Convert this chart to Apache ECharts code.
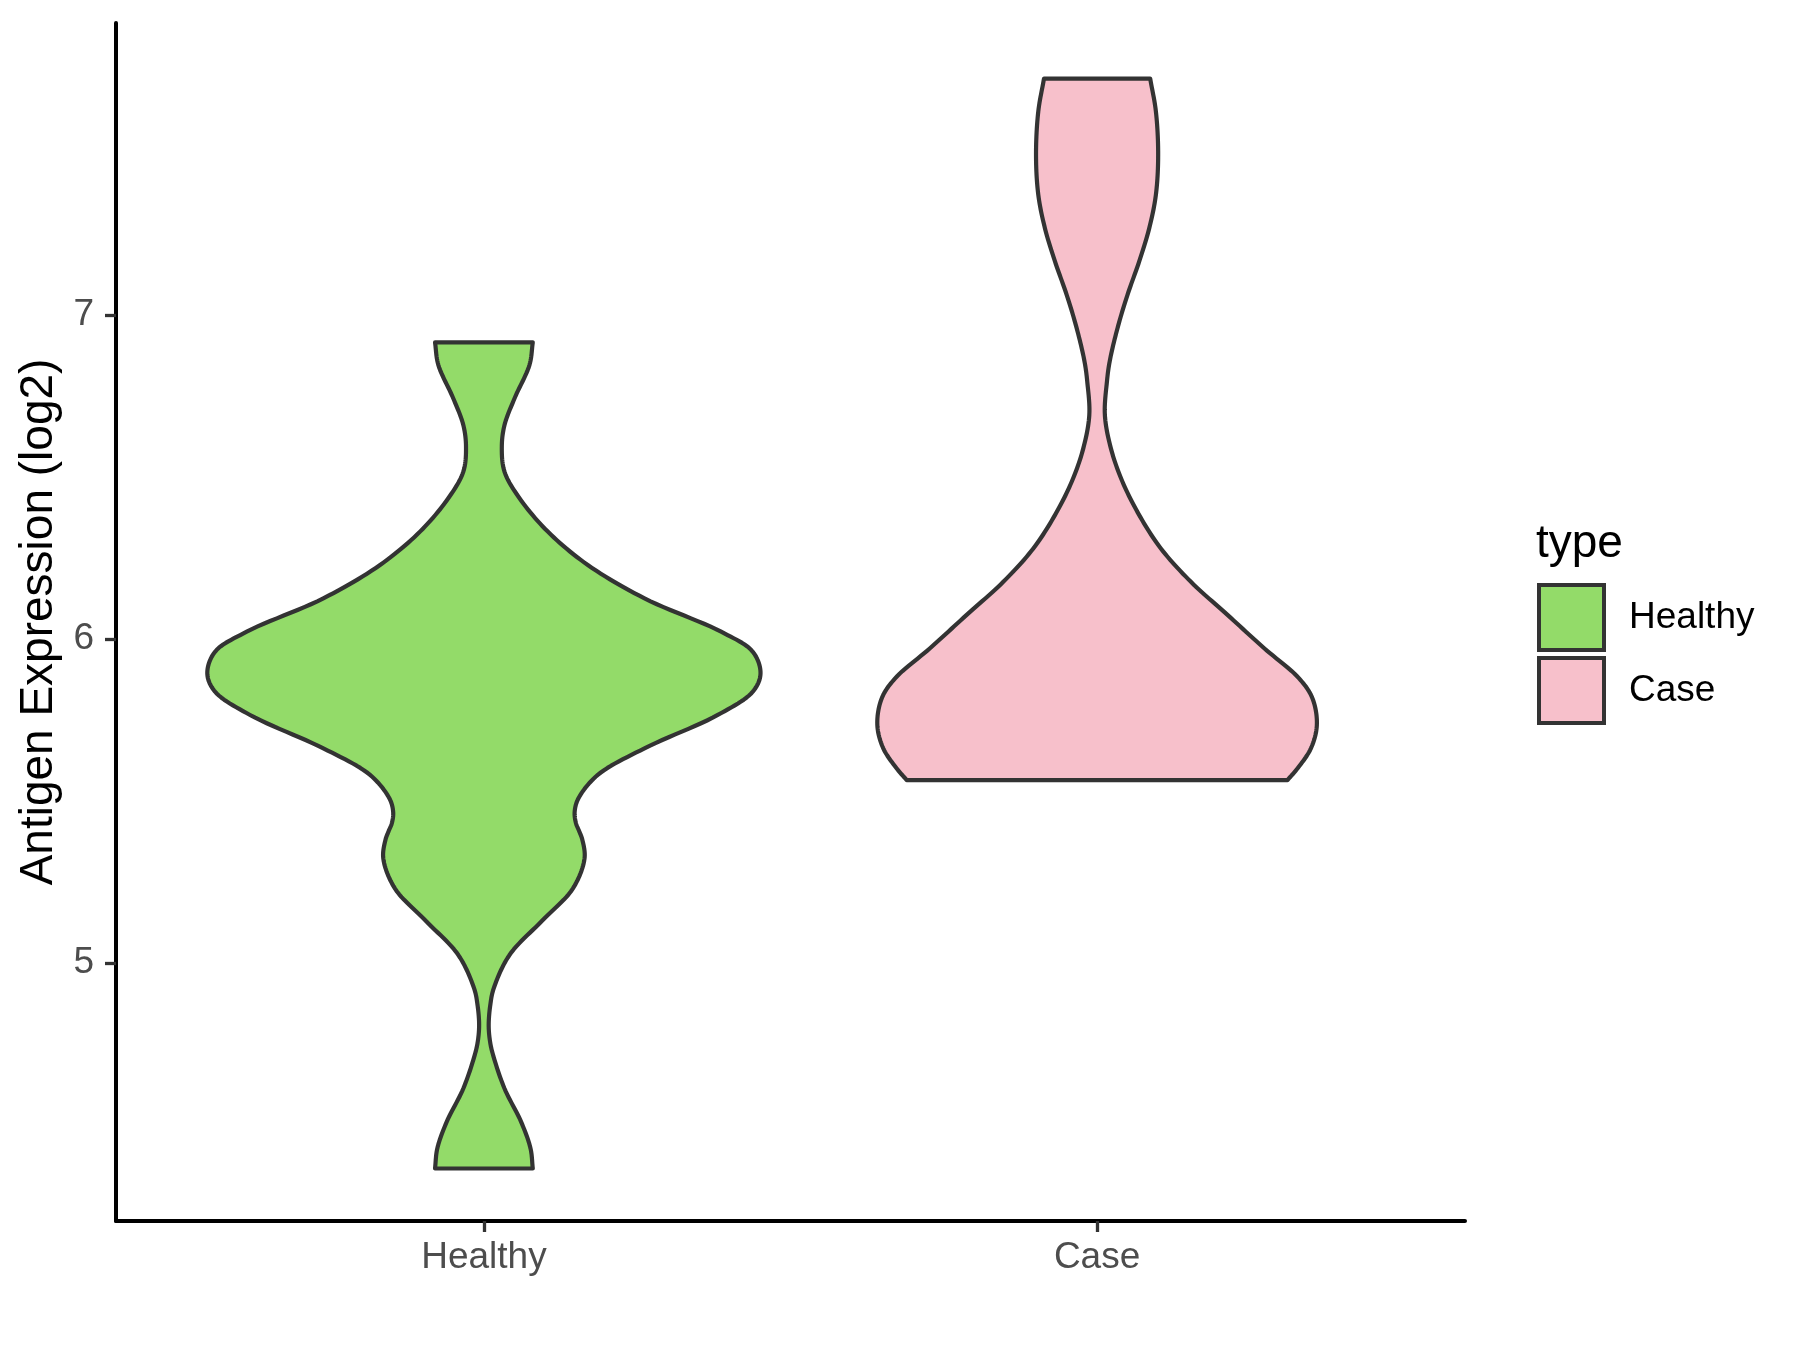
<!DOCTYPE html>
<html><head><meta charset="utf-8">
<script src="https://cdn.jsdelivr.net/npm/echarts@6/dist/echarts.min.js"></script>
<style>html,body{margin:0;padding:0;background:#fff}#c{width:1800px;height:1350px}</style>
</head><body><div id="c"></div>
<script>
// ---- data ----
const categories = ['Healthy', 'Case'];
const categoryPositions = [1, 2];
const yTicks = [5, 6, 7];
const legendTitle = 'type';
const yAxisTitle = 'Antigen Expression (log2)';

// Healthy violin outline: y value (top to bottom) and half-width (x units)
const healthyY = [6.915, 6.846, 6.742, 6.660, 6.593, 6.516, 6.434, 6.331, 6.228, 6.125, 6.022, 5.960, 5.893, 5.837, 5.765, 5.662, 5.580, 5.507, 5.466, 5.432, 5.404, 5.380, 5.322, 5.229, 5.127, 5.024, 4.921, 4.871, 4.808, 4.757, 4.715, 4.612, 4.509, 4.427, 4.365];
const healthyHalfWidth = [0.0797, 0.0744, 0.0499, 0.0336, 0.0292, 0.0336, 0.0581, 0.1042, 0.1694, 0.2619, 0.3868, 0.4385, 0.4511, 0.4385, 0.3814, 0.2619, 0.1857, 0.1540, 0.1480, 0.1500, 0.1559, 0.1605, 0.1641, 0.1450, 0.0933, 0.0417, 0.0160, 0.0105, 0.0078, 0.0100, 0.0150, 0.0336, 0.0607, 0.0760, 0.0797];

// Case violin outline
const caseY = [7.729, 7.628, 7.494, 7.371, 7.267, 7.165, 7.062, 6.959, 6.856, 6.793, 6.691, 6.588, 6.485, 6.382, 6.279, 6.176, 6.074, 5.971, 5.878, 5.816, 5.734, 5.662, 5.600, 5.564];
const caseHalfWidth = [0.0866, 0.0959, 0.0996, 0.0959, 0.0850, 0.0687, 0.0496, 0.0333, 0.0205, 0.0160, 0.0127, 0.0225, 0.0414, 0.0687, 0.1040, 0.1530, 0.2127, 0.2725, 0.3294, 0.3513, 0.3584, 0.3487, 0.3268, 0.3105];

const fillColors = ['#93DB69', '#F7C0CB'];
const outlineColor = '#333333';
const fontFamily = '"Liberation Sans", Arial, sans-serif';

// centripetal Catmull-Rom sampling of screen points (rendering only)
function smoothPts(pts, n) {
  const out = [];
  const dist = (a, b) => Math.max(1e-6, Math.pow(Math.hypot(b[0] - a[0], b[1] - a[1]), 0.5));
  for (let i = 0; i < pts.length - 1; i++) {
    const p1 = pts[i], p2 = pts[i + 1];
    const p0 = i > 0 ? pts[i - 1] : [2 * p1[0] - p2[0], 2 * p1[1] - p2[1]];
    const p3 = i + 2 < pts.length ? pts[i + 2] : [2 * p2[0] - p1[0], 2 * p2[1] - p1[1]];
    const t0 = 0, t1 = t0 + dist(p0, p1), t2 = t1 + dist(p1, p2), t3 = t2 + dist(p2, p3);
    for (let k = 0; k < n; k++) {
      const t = t1 + (t2 - t1) * k / n;
      const lerp = (a, b, ta, tb) => [
        ((tb - t) * a[0] + (t - ta) * b[0]) / (tb - ta),
        ((tb - t) * a[1] + (t - ta) * b[1]) / (tb - ta)
      ];
      const A1 = lerp(p0, p1, t0, t1), A2 = lerp(p1, p2, t1, t2), A3 = lerp(p2, p3, t2, t3);
      const B1 = lerp(A1, A2, t0, t2), B2 = lerp(A2, A3, t1, t3);
      out.push(lerp(B1, B2, t1, t2));
    }
  }
  out.push(pts[pts.length - 1]);
  return out;
}

function violinRenderer(ys, hws, colorIdx) {
  return function (params, api) {
    const xc = api.value(0);
    const left = ys.map((y, i) => api.coord([xc - hws[i], y]));
    const right = ys.map((y, i) => api.coord([xc + hws[i], y]));
    const L = smoothPts(left, 12);
    const R = smoothPts(right, 12).reverse();
    return {
      type: 'polygon',
      shape: { points: L.concat(R) },
      style: { fill: fillColors[colorIdx], stroke: outlineColor, lineWidth: 4.2, lineJoin: 'round' }
    };
  };
}

const chart = echarts.init(document.getElementById('c'), null, { renderer: 'canvas' });
chart.setOption({
  backgroundColor: '#ffffff',
  animation: false,
  grid: { left: 116, right: 335, top: 23, bottom: 129, containLabel: false },
  title: {
    text: legendTitle, left: 1531, top: 516,
    textStyle: { fontSize: 46, fontWeight: 'normal', color: '#000', fontFamily: fontFamily }
  },
  legend: {
    orient: 'vertical', left: 1532, top: 578, itemGap: 4,
    itemWidth: 65, itemHeight: 65, icon: 'rect',
    textStyle: { fontSize: 37, color: '#000', fontFamily: fontFamily, padding: [0, 0, 0, 20] },
    data: categories.map((c, i) => ({
      name: c, icon: 'rect',
      itemStyle: { color: fillColors[i], borderColor: outlineColor, borderWidth: 4 }
    }))
  },
  xAxis: {
    type: 'value', min: 0.4, max: 2.6,
    axisLine: { show: true, lineStyle: { color: '#000', width: 4 } },
    axisTick: { show: true, customValues: categoryPositions, length: 11, lineStyle: { color: '#333', width: 3.3 } },
    axisLabel: {
      customValues: categoryPositions, margin: 18, fontSize: 37, color: '#4d4d4d', fontFamily: fontFamily,
      formatter: v => categories[categoryPositions.indexOf(Math.round(v))] || ''
    },
    splitLine: { show: false }
  },
  yAxis: {
    type: 'value', min: 4.203, max: 7.901,
    name: yAxisTitle, nameLocation: 'middle', nameGap: 51,
    nameTextStyle: { fontSize: 46, color: '#000', fontFamily: fontFamily },
    axisLine: { show: true, lineStyle: { color: '#000', width: 4 } },
    axisTick: { show: true, customValues: yTicks, length: 11, lineStyle: { color: '#333', width: 3.3 } },
    axisLabel: { customValues: yTicks, margin: 22, fontSize: 37, color: '#4d4d4d', fontFamily: fontFamily },
    splitLine: { show: false }
  },
  series: [
    { name: categories[0], type: 'custom', data: [[categoryPositions[0]]], renderItem: violinRenderer(healthyY, healthyHalfWidth, 0),
      itemStyle: { color: fillColors[0], borderColor: outlineColor, borderWidth: 4 }, silent: true },
    { name: categories[1], type: 'custom', data: [[categoryPositions[1]]], renderItem: violinRenderer(caseY, caseHalfWidth, 1),
      itemStyle: { color: fillColors[1], borderColor: outlineColor, borderWidth: 4 }, silent: true }
  ]
});
</script></body></html>
